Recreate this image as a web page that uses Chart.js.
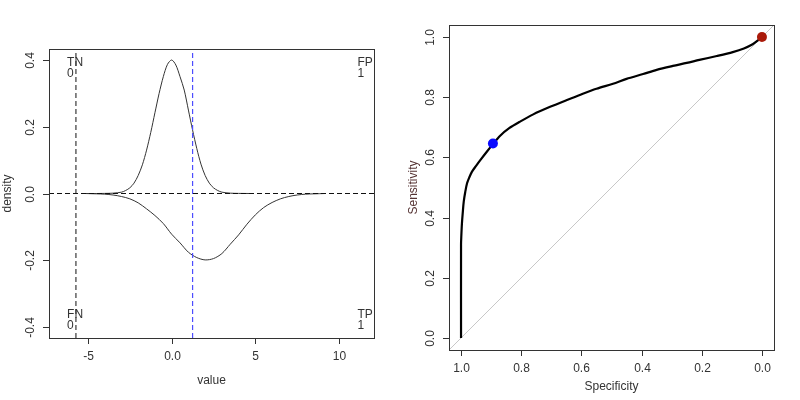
<!DOCTYPE html>
<html>
<head>
<meta charset="utf-8">
<script src="https://cdn.jsdelivr.net/npm/chart.js@4.4.1/dist/chart.umd.min.js"></script>
<style>
  body { margin: 0; background: #fff; }
  .wrap { display: flex; width: 800px; height: 400px; }
  canvas { display: block; }
</style>
</head>
<body>
<div class="wrap">
  <canvas id="densChart" width="400" height="400"></canvas>
  <canvas id="rocChart" width="400" height="400"></canvas>
</div>
<script>
// --- data ---
const controlX = [-5.2, -4.5, -4, -3.5, -3, -2.75, -2.5, -2.25, -2, -1.75, -1.5, -1.25, -1, -0.75, -0.5, -0.25, 0, 0.25, 0.5, 0.75, 1, 1.25, 1.5, 1.75, 2, 2.25, 2.5, 2.75, 3, 3.5, 4, 4.8];
const controlDensity = [0, 0, 0.0003, 0.001, 0.004, 0.009, 0.017, 0.031, 0.054, 0.086, 0.13, 0.183, 0.242, 0.30, 0.35, 0.387, 0.40, 0.385, 0.35, 0.31, 0.25, 0.19, 0.135, 0.088, 0.054, 0.031, 0.017, 0.009, 0.004, 0.001, 0.0003, 0];

const caseX = [-5.2, -4.5, -4, -3.5, -3, -2.5, -2, -1.5, -1, -0.5, 0, 0.5, 1, 1.5, 2, 2.5, 3, 3.5, 4, 4.5, 5, 5.5, 6, 6.5, 7, 7.5, 8, 8.5, 9.2];
const caseDensity = [0, -0.001, -0.002, -0.0045, -0.009, -0.016, -0.028, -0.046, -0.066, -0.09, -0.122, -0.148, -0.176, -0.192, -0.199, -0.195, -0.18, -0.152, -0.124, -0.092, -0.064, -0.042, -0.027, -0.016, -0.009, -0.0045, -0.002, -0.001, 0];

const thresholdLeft = -5.72;   // black dashed cut
const thresholdBest = 1.25;    // blue dashed cut

const densXTicks = [-5, 0, 5, 10];
const densYTicks = [-0.4, -0.2, 0.0, 0.2, 0.4];

const specificity = [1, 1, 0.999, 0.997, 0.994, 0.991, 0.986, 0.98, 0.972, 0.964, 0.95, 0.936, 0.915, 0.894, 0.87, 0.84, 0.804, 0.76, 0.704, 0.65, 0.599, 0.55, 0.495, 0.45, 0.395, 0.35, 0.296, 0.25, 0.208, 0.15, 0.097, 0.06, 0.031, 0.012, 0];
const sensitivity = [0, 0.31, 0.34, 0.381, 0.42, 0.453, 0.485, 0.514, 0.535, 0.552, 0.572, 0.591, 0.618, 0.644, 0.672, 0.697, 0.719, 0.743, 0.768, 0.790, 0.810, 0.828, 0.845, 0.861, 0.877, 0.891, 0.904, 0.914, 0.924, 0.937, 0.950, 0.962, 0.976, 0.99, 1];

const bestPoint = { x: 0.894, y: 0.646 };
const cornerPoint = { x: 0, y: 1 };

const rocTicks = [0.0, 0.2, 0.4, 0.6, 0.8, 1.0];

Chart.defaults.font.family = "'Liberation Sans', Arial, sans-serif";
Chart.defaults.animation = false;

const pts = (xs, ys) => xs.map((x, i) => ({ x: x, y: ys[i] }));

// R-style box + axes drawn with the chart's own scales
function rAxes(opts) {
  return {
    id: 'rAxes',
    afterDraw(chart) {
      const ctx = chart.ctx;
      const a = chart.chartArea;
      const xs = chart.scales.x, ys = chart.scales.y;
      ctx.save();
      ctx.strokeStyle = '#333';
      ctx.lineWidth = 1;
      ctx.strokeRect(Math.round(a.left) + 0.5, Math.round(a.top) + 0.5, Math.round(a.right - a.left), Math.round(a.bottom - a.top));

      ctx.fillStyle = '#333';
      ctx.font = "12px 'Liberation Sans', Arial, sans-serif";
      ctx.textAlign = 'center';
      ctx.textBaseline = 'middle';
      opts.xTicks.forEach(v => {
        const px = Math.round(xs.getPixelForValue(v)) + 0.5;
        ctx.beginPath();
        ctx.moveTo(px, a.bottom);
        ctx.lineTo(px, a.bottom + 6);
        ctx.stroke();
        ctx.fillText(opts.fmt(v), px, a.bottom + 19);
      });
      opts.yTicks.forEach(v => {
        const py = Math.round(ys.getPixelForValue(v)) + 0.5;
        ctx.beginPath();
        ctx.moveTo(a.left - 6, py);
        ctx.lineTo(a.left, py);
        ctx.stroke();
        ctx.save();
        ctx.translate(a.left - 18, py);
        ctx.rotate(-Math.PI / 2);
        ctx.fillText(opts.fmt(v), 0, 0);
        ctx.restore();
      });

      // axis titles
      ctx.fillText(opts.xTitle, (a.left + a.right) / 2, a.bottom + opts.xTitleOff);
      ctx.save();
      ctx.fillStyle = opts.yTitleColor || '#333';
      ctx.translate(a.left - opts.yTitleOff, (a.top + a.bottom) / 2);
      ctx.rotate(-Math.PI / 2);
      ctx.fillText(opts.yTitle, 0, 0);
      ctx.restore();

      // corner annotations
      if (opts.notes) {
        ctx.textAlign = 'left';
        ctx.font = "12px 'Liberation Sans', Arial, sans-serif";
        opts.notes.forEach(n => {
          const px = xs.getPixelForValue(n.x);
          const py = ys.getPixelForValue(n.y);
          n.lines.forEach((t, i) => ctx.fillText(t, px, py + i * 11));
        });
      }
      ctx.restore();
    }
  };
}

const fmt1 = v => v.toFixed(1);
const fmt0 = v => String(v);

// --- left: density plot ---
const xMin = -7.33, xMax = 12.09, yMin = -0.433, yMax = 0.433;

new Chart(document.getElementById('densChart'), {
  type: 'scatter',
  data: {
    datasets: [
      { data: [{ x: xMin, y: 0 }, { x: xMax, y: 0 }], showLine: true, borderColor: '#111', borderWidth: 1, borderDash: [5, 3], pointRadius: 0 },
      { data: [{ x: thresholdLeft, y: yMin }, { x: thresholdLeft, y: yMax }], showLine: true, borderColor: '#111', borderWidth: 1, borderDash: [5, 3], pointRadius: 0 },
      { data: [{ x: thresholdBest, y: yMin }, { x: thresholdBest, y: yMax }], showLine: true, borderColor: '#4d4dff', borderWidth: 1.2, borderDash: [5, 3], pointRadius: 0 },
      { data: pts(controlX, controlDensity), showLine: true, borderColor: '#333', borderWidth: 1, pointRadius: 0, tension: 0.3 },
      { data: pts(caseX, caseDensity), showLine: true, borderColor: '#333', borderWidth: 1, pointRadius: 0, tension: 0.3 }
    ]
  },
  options: {
    responsive: false,
    devicePixelRatio: 1,
    layout: { padding: { left: 49, top: 49, right: 26, bottom: 62 } },
    plugins: { legend: { display: false }, tooltip: { enabled: false } },
    scales: {
      x: { type: 'linear', min: xMin, max: xMax, display: false },
      y: { type: 'linear', min: yMin, max: yMax, display: false }
    }
  },
  plugins: [rAxes({
    xTicks: densXTicks, yTicks: densYTicks,
    fmt: v => (Number.isInteger(v) && Math.abs(v) >= 1 ? fmt0(v) : fmt1(v)),
    xTitle: 'value', xTitleOff: 43,
    yTitle: 'density', yTitleOff: 41,
    notes: [
      { x: -6.25, y: 0.393, lines: ['TN', '0'] },
      { x: 11.1, y: 0.393, lines: ['FP', '1'] },
      { x: -6.25, y: -0.364, lines: ['FN', '0'] },
      { x: 11.1, y: -0.364, lines: ['TP', '1'] }
    ]
  })]
});

// --- right: ROC curve ---
const rMin = -0.04, rMax = 1.04;

new Chart(document.getElementById('rocChart'), {
  type: 'scatter',
  data: {
    datasets: [
      // first datasets are painted last, so the dots sit on top of the curve
      { data: [bestPoint], pointRadius: 5, pointBackgroundColor: '#0a0aff', pointBorderColor: '#0a0aff', pointBorderWidth: 0 },
      { data: [cornerPoint], pointRadius: 5, pointBackgroundColor: '#aa1a0a', pointBorderColor: '#aa1a0a', pointBorderWidth: 0 },
      { data: pts(specificity, sensitivity), showLine: true, borderColor: '#000', borderWidth: 2.2, pointRadius: 0, tension: 0.3 },
      { data: [{ x: rMax, y: rMin }, { x: rMin, y: rMax }], showLine: true, borderColor: '#c8c8c8', borderWidth: 1, pointRadius: 0 }
    ]
  },
  options: {
    responsive: false,
    devicePixelRatio: 1,
    layout: { padding: { left: 49, top: 25, right: 26, bottom: 50 } },
    plugins: { legend: { display: false }, tooltip: { enabled: false } },
    scales: {
      x: { type: 'linear', min: rMin, max: rMax, reverse: true, display: false },
      y: { type: 'linear', min: rMin, max: rMax, display: false }
    }
  },
  plugins: [rAxes({
    xTicks: rocTicks, yTicks: rocTicks, fmt: fmt1,
    xTitle: 'Specificity', xTitleOff: 37,
    yTitle: 'Sensitivity', yTitleOff: 35, yTitleColor: '#553333'
  })]
});
</script>
</body>
</html>
